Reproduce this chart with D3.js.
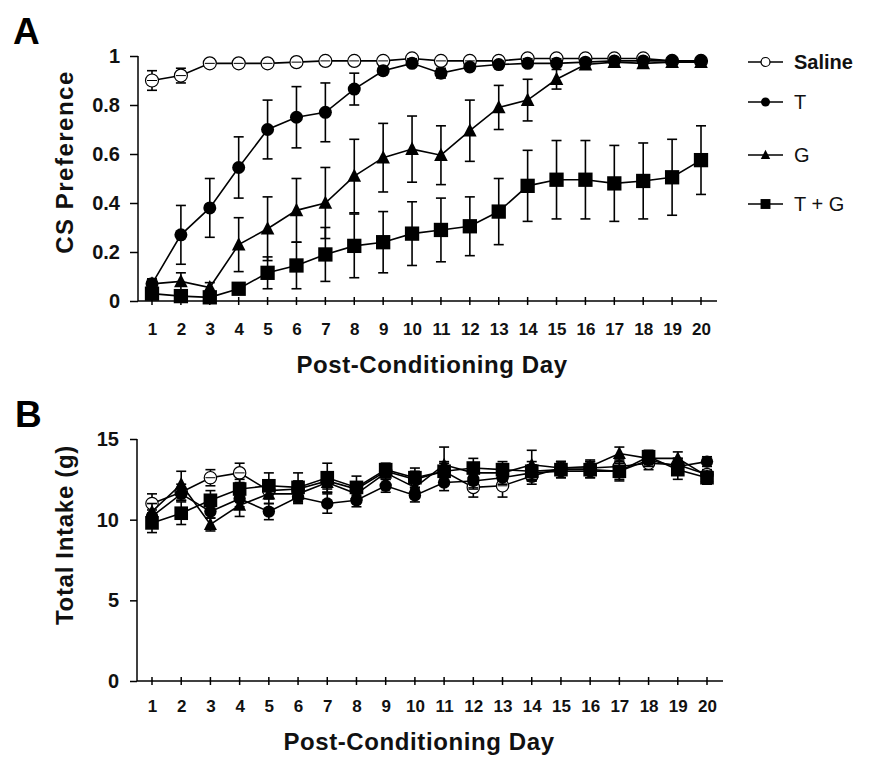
<!DOCTYPE html>
<html><head><meta charset="utf-8">
<script src="https://cdn.jsdelivr.net/npm/d3@7"></script>
<style>body{margin:0;background:#fff}svg{display:block;font-family:"Liberation Sans",Arial,sans-serif}</style>
</head><body>
<script>
const days = d3.range(1, 21);
const seriesNames = ["Saline", "T", "G", "T + G"];
const seriesShapes = ["openCircle", "circle", "triangle", "square"];

// Panel A: CS Preference
const aSaline = [0.90,0.92,0.97,0.97,0.97,0.975,0.98,0.98,0.98,0.99,0.98,0.98,0.98,0.99,0.99,0.99,0.99,0.99,0.98,0.98];
const aSalineErr = [0.04,0.03,0.01,0.01,0.01,0.01,0.01,0.01,0.01,0.01,0.01,0.01,0.01,0.01,0.01,0.01,0.01,0.01,0.01,0.01];
const aT = [0.07,0.27,0.38,0.545,0.70,0.75,0.77,0.865,0.94,0.97,0.93,0.955,0.965,0.97,0.97,0.975,0.98,0.98,0.98,0.98];
const aTErr = [0.02,0.12,0.12,0.125,0.12,0.125,0.12,0.065,0.015,0.01,0.02,0.01,0.01,0.01,0.01,0.01,0.01,0.01,0.01,0.01];
const aG = [0.07,0.08,0.055,0.23,0.295,0.37,0.40,0.51,0.585,0.62,0.595,0.695,0.79,0.82,0.905,0.965,0.975,0.97,0.975,0.975];
const aGErr = [0.02,0.035,0.02,0.11,0.13,0.13,0.145,0.15,0.14,0.135,0.12,0.125,0.09,0.085,0.04,0.01,0.01,0.01,0.01,0.01];
const aTG = [0.03,0.02,0.015,0.05,0.115,0.145,0.19,0.225,0.24,0.275,0.29,0.305,0.365,0.47,0.495,0.495,0.48,0.49,0.505,0.575];
const aTGErr = [0.015,0.01,0.01,0.015,0.065,0.095,0.11,0.13,0.125,0.13,0.13,0.12,0.135,0.145,0.16,0.16,0.155,0.155,0.155,0.14];

// Panel B: Total Intake (g)
const bSaline = [11.0,11.7,12.6,12.9,11.8,11.9,12.4,11.9,13.0,12.5,13.0,12.0,12.1,12.7,13.2,13.2,13.3,13.5,13.4,12.8];
const bSalineErr = [0.6,0.5,0.5,0.6,0.5,0.5,0.5,0.4,0.4,0.5,0.5,0.6,0.7,0.5,0.4,0.4,0.5,0.4,0.4,0.3];
const bT = [10.2,11.6,10.5,11.3,10.5,11.4,11.0,11.2,12.1,11.5,12.3,12.4,12.6,12.9,13.0,13.0,13.0,13.7,13.3,13.6];
const bTErr = [0.4,0.4,0.4,0.5,0.5,0.4,0.6,0.4,0.4,0.4,0.5,0.5,0.4,0.5,0.4,0.4,0.5,0.4,0.5,0.3];
const bG = [10.5,12.2,9.7,10.9,11.6,11.6,12.3,11.6,12.9,12.0,13.4,12.9,12.9,13.4,13.2,13.3,14.1,13.8,13.8,12.7];
const bGErr = [0.5,0.8,0.4,0.7,0.6,0.5,0.6,0.5,0.4,0.5,1.1,0.6,0.5,0.9,0.4,0.4,0.4,0.4,0.4,0.3];
const bTG = [9.8,10.4,11.2,11.9,12.1,12.0,12.6,12.0,13.1,12.6,13.0,13.2,13.1,13.0,13.1,13.1,13.0,13.9,13.1,12.6];
const bTGErr = [0.6,0.7,0.6,0.6,0.8,0.9,0.9,0.7,0.4,0.6,0.6,0.6,0.5,0.6,0.5,0.5,0.6,0.4,0.6,0.4];

const yTicksA = [0, 0.2, 0.4, 0.6, 0.8, 1];
const yTickLabelsA = ["0", "0.2", "0.4", "0.6", "0.8", "1"];
const yTicksB = [0, 5, 10, 15];
const yTickLabelsB = ["0", "5", "10", "15"];

const W = 876, H = 762;
const FONT = "Liberation Sans, Arial, sans-serif";
const svg = d3.select("body").append("svg").attr("width", W).attr("height", H);

function drawMarker(g, shape, x, y, size) {
  if (shape === "openCircle") {
    g.append("circle").attr("cx", x).attr("cy", y).attr("r", size)
      .attr("fill", "#fff").attr("stroke", "#000").attr("stroke-width", 1.2);
  } else if (shape === "circle") {
    g.append("circle").attr("cx", x).attr("cy", y).attr("r", size).attr("fill", "#000");
  } else if (shape === "square") {
    const s = size * 2.2;
    g.append("rect").attr("x", x - s / 2).attr("y", y - s / 2).attr("width", s).attr("height", s).attr("fill", "#000");
  } else if (shape === "triangle") {
    const s = size * 1.05;
    g.append("path").attr("d", `M${x},${y - s * 1.1}L${x + s},${y + s * 0.85}L${x - s},${y + s * 0.85}Z`).attr("fill", "#000");
  }
}

function panel(opts) {
  const { x0, x1, xAxisEnd, yTop, yBottom, domain, ticks, tickLabels, series, label, lx, ly,
          ytitle, ytx, yty, ytSpacing, xtitleX, xtitleY, tickLabelY, mSize, tickLen } = opts;
  const x = d3.scaleLinear().domain([1, 20]).range([x0, x1]);
  const y = d3.scaleLinear().domain(domain).range([yBottom, yTop]);
  const axX = opts.axisX;
  const g = svg.append("g");

  // y axis
  const yAx = g.append("g").attr("transform", `translate(${axX},0)`)
    .call(d3.axisLeft(y).tickValues(ticks).tickFormat((d, i) => tickLabels[i]).tickSize(tickLen).tickPadding(18 - tickLen));
  yAx.select(".domain").remove();
  yAx.selectAll(".tick line").attr("stroke", "#000").attr("stroke-width", 1.5);
  yAx.selectAll(".tick text").attr("font-size", 20).attr("font-weight", "bold").attr("fill", "#111").attr("font-family", FONT);
  g.append("line").attr("x1", axX).attr("x2", axX).attr("y1", yTop).attr("y2", yBottom).attr("stroke", "#000").attr("stroke-width", 1.5);

  // x axis
  g.append("line").attr("x1", axX).attr("x2", xAxisEnd).attr("y1", yBottom).attr("y2", yBottom).attr("stroke", "#000").attr("stroke-width", 1.5);
  const xAx = g.append("g").attr("transform", `translate(0,${yBottom})`)
    .call(d3.axisBottom(x).tickValues(days).tickFormat(d3.format("d")).tickSize(0).tickPadding(tickLabelY));
  xAx.select(".domain").remove();
  xAx.selectAll(".tick text").attr("font-size", 17).attr("font-weight", "bold").attr("fill", "#111").attr("font-family", FONT);
  g.selectAll(".xt").data(days).enter().append("line").attr("class", "xt")
    .attr("x1", d => x(d)).attr("x2", d => x(d)).attr("y1", yBottom - 4).attr("y2", yBottom + 4)
    .attr("stroke", "#000").attr("stroke-width", 1.5);

  // series
  series.forEach(s => {
    const sg = g.append("g");
    s.vals.forEach((v, i) => {
      const e = s.err[i];
      const cx = x(days[i]);
      sg.append("line").attr("x1", cx).attr("x2", cx).attr("y1", y(v + e)).attr("y2", y(v - e)).attr("stroke", "#000").attr("stroke-width", 1.6);
      [v + e, v - e].forEach(t => sg.append("line").attr("x1", cx - 5).attr("x2", cx + 5).attr("y1", y(t)).attr("y2", y(t)).attr("stroke", "#000").attr("stroke-width", 1.6));
    });
    sg.append("path").datum(s.vals)
      .attr("d", d3.line().x((d, i) => x(days[i])).y(d => y(d)))
      .attr("fill", "none").attr("stroke", "#000").attr("stroke-width", 1.6);
    s.vals.forEach((v, i) => drawMarker(sg, s.shape, x(days[i]), y(v), mSize));
    if (s.shape === "openCircle") {
      s.vals.forEach((v, i) => {
        const cx = x(days[i]);
        sg.append("line").attr("x1", cx - 5).attr("x2", cx + 5).attr("y1", y(v)).attr("y2", y(v)).attr("stroke", "#000").attr("stroke-width", 1);
      });
    }
  });

  // labels
  svg.append("text").attr("x", lx).attr("y", ly).text(label).attr("font-size", 37).attr("font-weight", "bold").attr("fill", "#000").attr("font-family", FONT);
  svg.append("text").attr("transform", `translate(${ytx},${yty}) rotate(-90)`).attr("text-anchor", "middle")
    .attr("letter-spacing", ytSpacing)
    .text(ytitle).attr("font-size", 24).attr("font-weight", "bold").attr("fill", "#111").attr("font-family", FONT);
  svg.append("text").attr("x", xtitleX).attr("y", xtitleY).attr("text-anchor", "middle").attr("letter-spacing", 0.6)
    .text("Post-Conditioning Day").attr("font-size", 24).attr("font-weight", "bold").attr("fill", "#111").attr("font-family", FONT);
}

panel({
  axisX: 138, x0: 152, x1: 701, xAxisEnd: 717, yTop: 56, yBottom: 301, domain: [0, 1],
  ticks: yTicksA, tickLabels: yTickLabelsA, label: "A", lx: 13, ly: 44, tickLen: 8,
  ytitle: "CS Preference", ytx: 73, yty: 162, ytSpacing: 1.5, xtitleX: 432, xtitleY: 373, tickLabelY: 22, mSize: 6.5,
  series: [
    { vals: aSaline, err: aSalineErr, shape: "openCircle" },
    { vals: aT, err: aTErr, shape: "circle" },
    { vals: aG, err: aGErr, shape: "triangle" },
    { vals: aTG, err: aTGErr, shape: "square" }
  ]
});

panel({
  axisX: 137, x0: 152, x1: 707, xAxisEnd: 723, yTop: 439, yBottom: 681, domain: [0, 15],
  ticks: yTicksB, tickLabels: yTickLabelsB, label: "B", lx: 15, ly: 427, tickLen: 7,
  ytitle: "Total Intake (g)", ytx: 73, yty: 535, ytSpacing: 0.7, xtitleX: 419, xtitleY: 750, tickLabelY: 19, mSize: 6.2,
  series: [
    { vals: bSaline, err: bSalineErr, shape: "openCircle" },
    { vals: bT, err: bTErr, shape: "circle" },
    { vals: bG, err: bGErr, shape: "triangle" },
    { vals: bTG, err: bTGErr, shape: "square" }
  ]
});

// legend
const legY = [62, 102, 155, 204];
const lg = svg.append("g");
seriesNames.forEach((n, i) => {
  const yy = legY[i];
  lg.append("line").attr("x1", 748).attr("x2", 783).attr("y1", yy).attr("y2", yy).attr("stroke", "#000").attr("stroke-width", 1.5);
  drawMarker(lg, seriesShapes[i], 765.5, yy, i === 0 ? 4.5 : 4.5);
  lg.append("text").attr("x", 794).attr("y", yy + 7).text(n).attr("font-size", 20)
    .attr("font-weight", i === 0 ? "bold" : "normal").attr("fill", "#111").attr("font-family", FONT);
});
</script>
</body></html>
